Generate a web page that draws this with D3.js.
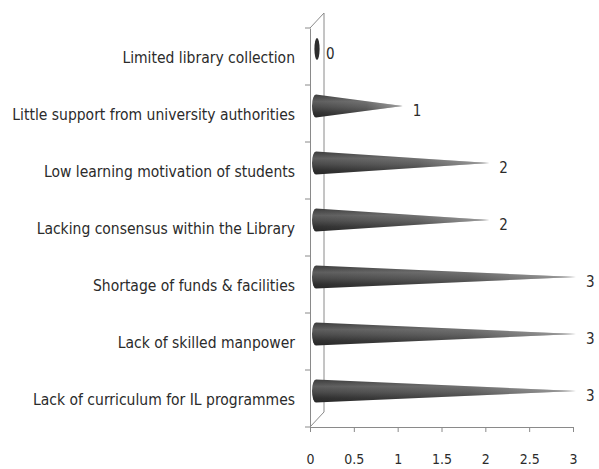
<!DOCTYPE html>
<html>
<head>
<meta charset="utf-8">
<script src="https://cdn.jsdelivr.net/npm/d3@7"></script>
<style>
  html, body { margin: 0; padding: 0; background: #fff; }
  svg text { font-family: "DejaVu Sans Condensed", "Noto Sans", sans-serif; fill: #2b2b2b; }
</style>
</head>
<body>
<svg id="chart" width="599" height="469"></svg>
<script>
// Barriers to IL programmes, top to bottom
const categories = [
  "Limited library collection",
  "Little support from university authorities",
  "Low learning motivation of students",
  "Lacking consensus within the Library",
  "Shortage of funds & facilities",
  "Lack of skilled manpower",
  "Lack of curriculum for IL programmes"
];
const values = [0, 1, 2, 2, 3, 3, 3];
const xTicks = [0, 0.5, 1, 1.5, 2, 2.5, 3];

const svg = d3.select("#chart");

// Front plane of the 3D box, plus depth offset of the back wall
const front = { left: 310, right: 573, top: 28, bottom: 427 };
const depth = { dx: 14, dy: -15 };

const x = d3.scaleLinear().domain([0, 3]).range([front.left, front.right]);
const y = d3.scaleBand().domain(categories).range([front.top, front.bottom]);
// cones sit half-way into the depth
const coneX = d3.scaleLinear().domain([0, 3]).range([front.left + 6, 576]);

const defs = svg.append("defs");
const shade = defs.append("linearGradient").attr("id", "coneShade")
  .attr("x1", 0).attr("y1", 0).attr("x2", 0).attr("y2", 1);
[[0, "#3c3c3c"], [0.3, "#5e5e5e"], [0.55, "#4a4a4a"], [0.8, "#303030"], [1, "#262626"]]
  .forEach(([o, c]) => shade.append("stop").attr("offset", o).attr("stop-color", c));
const fade = defs.append("linearGradient").attr("id", "coneFade")
  .attr("x1", 0).attr("y1", 0).attr("x2", 1).attr("y2", 0);
[[0, 0], [0.6, 0.12], [1, 0.45]]
  .forEach(([o, a]) => fade.append("stop").attr("offset", o).attr("stop-color", "#fff").attr("stop-opacity", a));

const axisColor = "#8a8a8a";

// Back wall edge and top/bottom depth edges
const walls = svg.append("g").attr("stroke", axisColor).attr("stroke-width", 1).attr("fill", "none");
walls.append("line")
  .attr("x1", front.left + depth.dx).attr("y1", front.top + depth.dy)
  .attr("x2", front.left + depth.dx).attr("y2", front.bottom + depth.dy);
walls.append("line")
  .attr("x1", front.left).attr("y1", front.top)
  .attr("x2", front.left + depth.dx).attr("y2", front.top + depth.dy);
walls.append("line")
  .attr("x1", front.left).attr("y1", front.bottom)
  .attr("x2", front.left + depth.dx).attr("y2", front.bottom + depth.dy);

// Category axis on the front plane
const yAxis = d3.axisLeft(y).tickSize(0).tickPadding(15);
const gy = svg.append("g").attr("transform", `translate(${front.left},0)`).call(yAxis);
gy.select(".domain").attr("stroke", axisColor);
gy.selectAll("text").attr("font-size", 15.5).attr("dy", "0.45em");
// small marks between categories
svg.append("g").selectAll("line")
  .data(d3.range(categories.length + 1))
  .join("line")
  .attr("x1", front.left - 5).attr("x2", front.left)
  .attr("y1", i => front.top + i * y.step())
  .attr("y2", i => front.top + i * y.step())
  .attr("stroke", axisColor);

// Value axis along the floor
const xAxis = d3.axisBottom(x).tickValues(xTicks).tickSize(5).tickPadding(22)
  .tickFormat(d3.format("~g"));
const gx = svg.append("g").attr("transform", `translate(0,${front.bottom})`).call(xAxis);
gx.select(".domain").attr("stroke", axisColor).attr("d", `M${front.left},0.5H${front.right}`);
gx.selectAll(".tick line").attr("stroke", axisColor);
gx.selectAll("text").attr("font-size", 14);

// Cones
const r = 11.5, rx = 4;
const cones = svg.append("g").selectAll("g")
  .data(categories.map((c, i) => ({ c, v: values[i] })))
  .join("g");

function conePath(d) {
  const cy = y(d.c) + y.bandwidth() / 2 + depth.dy / 2;
  const x0 = coneX(0), xt = coneX(d.v);
  return `M${x0},${cy - r} L${xt},${cy} L${x0},${cy + r} A${rx},${r} 0 0 1 ${x0},${cy - r} Z`;
}

cones.filter(d => d.v > 0).append("path")
  .attr("d", conePath).attr("fill", "url(#coneShade)");
cones.filter(d => d.v > 0).append("path")
  .attr("d", conePath).attr("fill", "url(#coneFade)");
cones.filter(d => d.v === 0).append("ellipse")
  .attr("cx", coneX(0) + 1)
  .attr("cy", d => y(d.c) + y.bandwidth() / 2 + depth.dy / 2)
  .attr("rx", 2.6).attr("ry", r - 0.5)
  .attr("fill", "#2e2e2e");

// Data labels
cones.append("text")
  .attr("x", d => coneX(d.v) + 10)
  .attr("y", d => y(d.c) + y.bandwidth() / 2 - 3)
  .attr("dy", "0.35em")
  .attr("font-size", 15)
  .text(d => d.v);
</script>
</body>
</html>
